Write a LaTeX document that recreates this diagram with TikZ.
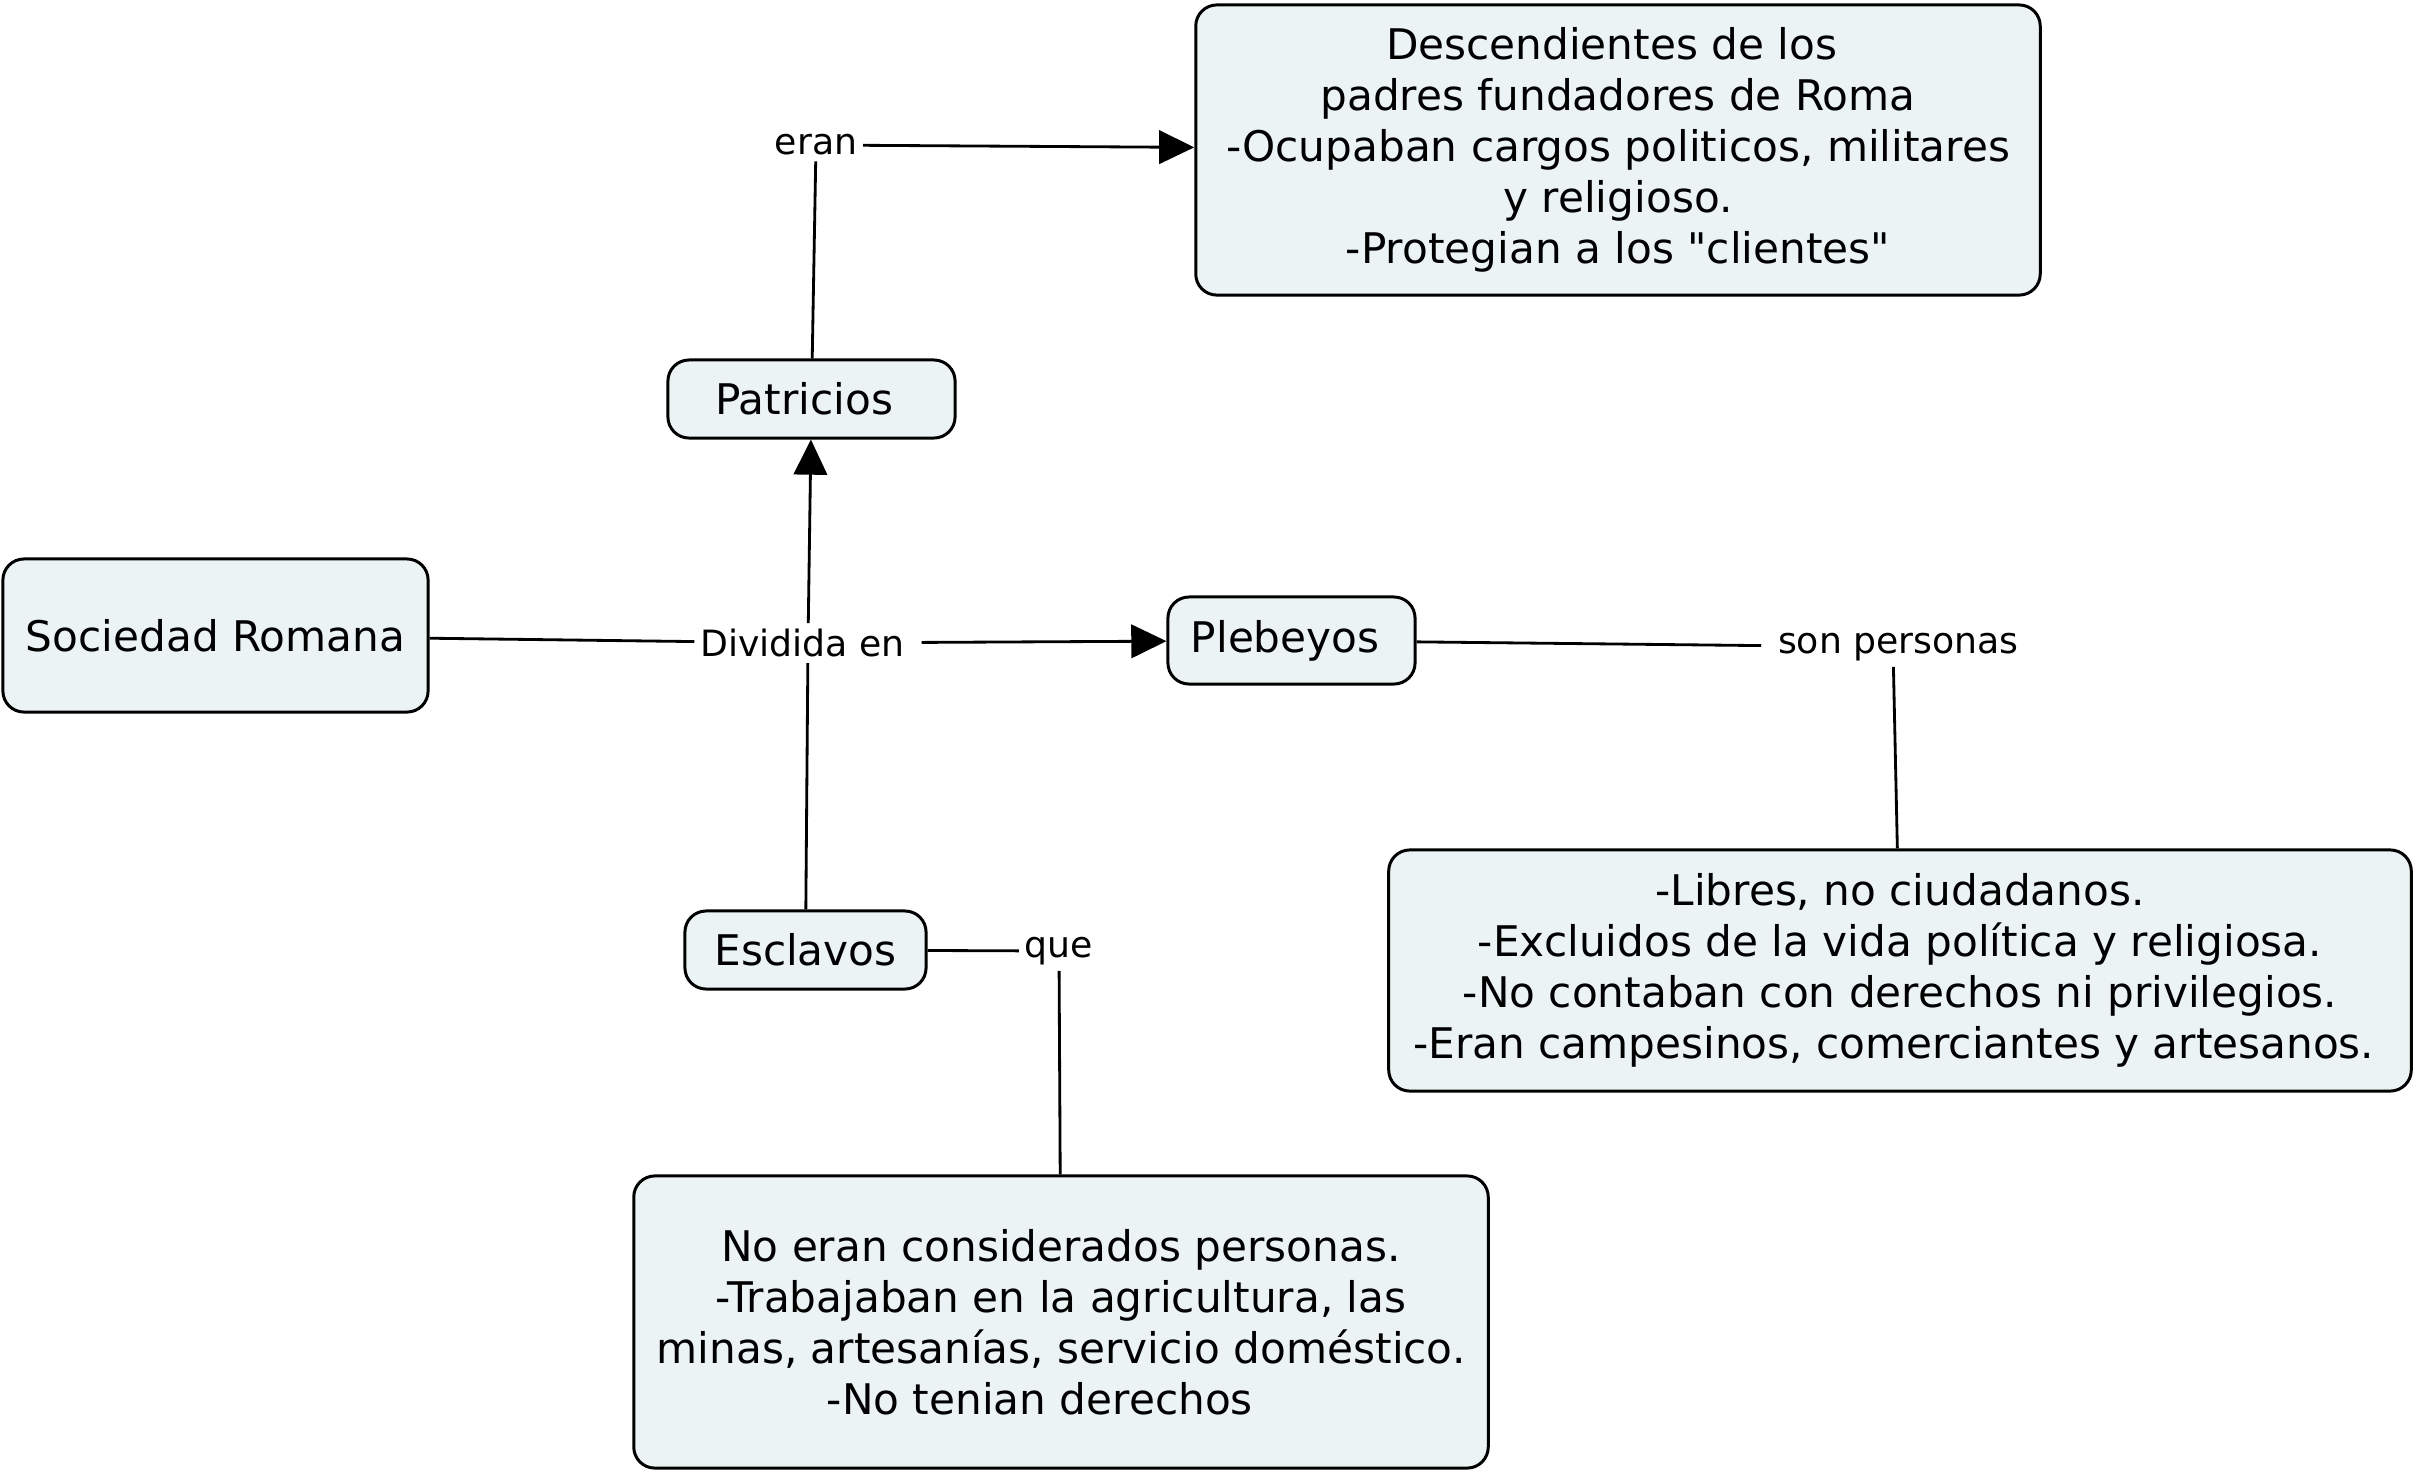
\documentclass[tikz,border=0pt]{standalone}
\usepackage{fontspec}
\setmainfont{DejaVu Sans}[Ligatures=TeXOff]
\usepackage{tikz}
\usetikzlibrary{arrows.meta, positioning}
\definecolor{fondoConcepto}{RGB}{235, 243, 245}
\definecolor{bordeConcepto}{RGB}{0, 0, 0}

\begin{document}
\begin{tikzpicture}[x=0.01cm, y=-0.01cm,
  concepto/.style={rectangle, rounded corners=6pt, draw=bordeConcepto,
    fill=fondoConcepto, line width=0.85pt, inner sep=0pt, align=center,
    font=\fontsize{12}{14.5}\selectfont},
  enlace/.style={rectangle, inner sep=1.5pt,
    font=\fontsize{10.3}{12}\selectfont},
  lin/.style={line width=0.8pt},
  arr/.style={-{Triangle[length=10pt, width=9.5pt]}, line width=0.8pt},
]
\useasboundingbox (0,0) rectangle (2420,1475);
% conceptos
\node[concepto, minimum width=4.25cm, minimum height=1.53cm] (soc)
  at (215.5, 635.5) {Sociedad Romana};
\node[concepto, minimum width=2.87cm, minimum height=0.78cm] (pat)
  at (811.5, 399) {Patricios\kern0.35em};
\node[concepto, minimum width=2.47cm, minimum height=0.87cm] (pleb)
  at (1291.5, 640.5) {Plebeyos\kern0.3em};
\node[concepto, minimum width=2.41cm, minimum height=0.78cm] (escl)
  at (805.5, 950) {Esclavos};
\node[concepto, minimum width=8.44cm, minimum height=2.90cm] (patdesc)
  at (1618, 150)
  {Descendientes de los\kern0.3em\\
   padres fundadores de Roma\\
   -Ocupaban cargos politicos, militares\\
   y religioso.\\
   -Protegian a los "clientes"};
\node[concepto, minimum width=10.22cm, minimum height=2.41cm] (plebdesc)
  at (1900, 970.5)
  {-Libres, no ciudadanos.\\
   -Excluidos de la vida política y religiosa.\\
   -No contaban con derechos ni privilegios.\\
   -Eran campesinos, comerciantes y artesanos.\kern0.3em};
\node[concepto, minimum width=8.54cm, minimum height=2.92cm] (escldesc)
  at (1061, 1322)
  {No eran considerados personas.\\
   -Trabajaban en la agricultura, las\\
   minas, artesanías, servicio doméstico.\\
   -No tenian derechos\kern1em};
% palabras de enlace
\node[enlace] (div) at (808, 643) {Dividida en\kern0.3em};
\node[enlace] (eran) at (816, 145) {eran};
\node[enlace] (sonper) at (1893, 647) {\kern0.3em son personas};
\node[enlace] (que) at (1059, 951) {que};
% conexiones
\foreach \a/\b in {soc/div, escl/div, pat/eran, pleb/sonper,
                   sonper/plebdesc, escl/que, que/escldesc}
  \draw[lin] (\a) -- (\b);
\foreach \a/\b in {div/pat, div/pleb, eran/patdesc}
  \draw[arr] (\a) -- (\b);
\end{tikzpicture}
\end{document}
